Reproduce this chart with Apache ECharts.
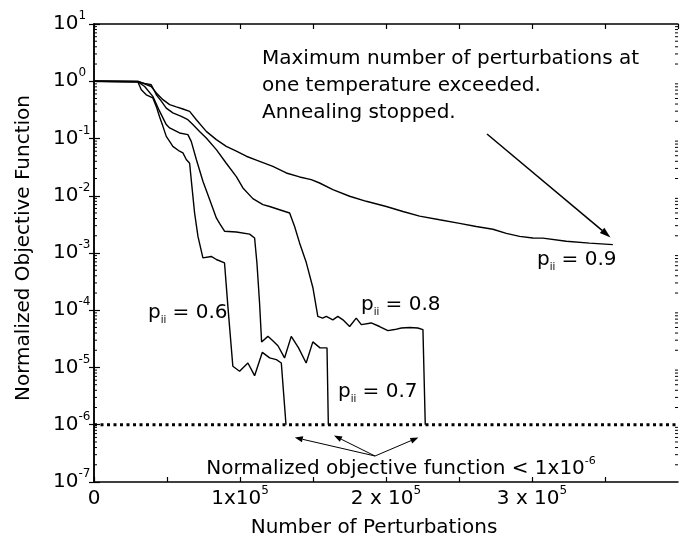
<!DOCTYPE html>
<html><head><meta charset="utf-8">
<script src="https://cdn.jsdelivr.net/npm/echarts@6/dist/echarts.min.js"></script>
<style>html,body{margin:0;padding:0;background:#fff}#c{width:687px;height:547px}</style>
</head><body><div id="c"></div>
<script>
// ---- data ----
const p06_x = [0, 30000, 32400, 35800, 40300, 42700, 44900, 47200, 49500, 51800, 54000, 58600, 60900, 63200, 65500, 66600, 68900, 71200, 74600, 80300, 83800, 89400, 91700, 95100, 99700, 105400, 110000, 115300, 120300, 124900, 128300, 131500];
const p06_y = [1, 0.98, 0.71, 0.58, 0.51, 0.36, 0.24, 0.163, 0.109, 0.089, 0.073, 0.060, 0.056, 0.043, 0.037, 0.0191, 0.0050, 0.00195, 0.00082, 0.00087, 0.00077, 0.00067, 0.000117, 1.05e-5, 8.6e-6, 1.2e-5, 7.2e-6, 1.84e-5, 1.47e-5, 1.37e-5, 1.2e-5, 1e-6];

const p07_x = [0, 30000, 34700, 40300, 44900, 49500, 51800, 58600, 64300, 66600, 70100, 74600, 79200, 83800, 86000, 89400, 97500, 106600, 110000, 111600, 113400, 114800, 119100, 122300, 126000, 130500, 135100, 140100, 145300, 149900, 154800, 159600, 160500];
const p07_y = [1, 0.98, 0.81, 0.545, 0.30, 0.175, 0.153, 0.125, 0.117, 0.089, 0.043, 0.0179, 0.0086, 0.0041, 0.0033, 0.0024, 0.00233, 0.00214, 0.00183, 0.00067, 0.000134, 2.8e-5, 3.5e-5, 2.95e-5, 2.4e-5, 1.47e-5, 3.5e-5, 2.2e-5, 1.2e-5, 2.8e-5, 2.2e-5, 2.2e-5, 1e-6];

const p08_x = [0, 30000, 34700, 39200, 42700, 46100, 49500, 54000, 59800, 64300, 67700, 72300, 76900, 83800, 90600, 97500, 102000, 108800, 115700, 120300, 127100, 134000, 137400, 140800, 145400, 149900, 153300, 156600, 159100, 163600, 167000, 170500, 175100, 179600, 183100, 189900, 195600, 201300, 205900, 210500, 216200, 221800, 225300, 226900];
const p08_y = [1, 0.98, 0.92, 0.87, 0.58, 0.45, 0.34, 0.28, 0.244, 0.213, 0.175, 0.133, 0.102, 0.064, 0.037, 0.0216, 0.0137, 0.0089, 0.0070, 0.0065, 0.0057, 0.0050, 0.0029, 0.0015, 0.00068, 0.00025, 7.8e-5, 7.3e-5, 7.8e-5, 6.8e-5, 7.8e-5, 6.8e-5, 5.2e-5, 7.3e-5, 5.6e-5, 6.0e-5, 5.2e-5, 4.4e-5, 4.6e-5, 4.9e-5, 5.0e-5, 4.9e-5, 4.6e-5, 1e-6];

const p09_x = [0, 30000, 31200, 35800, 39200, 42700, 47200, 51800, 56400, 60900, 65500, 70100, 76900, 83800, 90600, 97500, 104300, 111200, 122500, 131700, 140800, 148800, 154500, 163600, 175100, 186500, 200200, 211600, 223000, 236700, 250400, 261800, 273200, 282400, 291500, 300600, 307400, 323500, 339400, 355400];
const p09_y = [1, 1, 0.93, 0.87, 0.81, 0.625, 0.477, 0.39, 0.356, 0.328, 0.298, 0.213, 0.133, 0.0955, 0.073, 0.060, 0.049, 0.042, 0.0326, 0.025, 0.0213, 0.0191, 0.0167, 0.0128, 0.0098, 0.0080, 0.0065, 0.0053, 0.0044, 0.0038, 0.0033, 0.0029, 0.0026, 0.0022, 0.00195, 0.00183, 0.00182, 0.0016, 0.00149, 0.0014];

const threshold_x = [0, 400000];
const threshold_y = [1e-6, 1e-6];

const xTickLabels = {0: '0', 100000: '1x10', 200000: '2 x 10', 300000: '3 x 10'};
const xTickExp = '5';
const seriesLabels = ['0.6', '0.7', '0.8', '0.9'];
const xTitle = 'Number of Perturbations';
const yTitle = 'Normalized Objective Function';
const noteTop = ['Maximum number of perturbations at', 'one temperature exceeded.', 'Annealing stopped.'];
const noteBottom = 'Normalized objective function < 1x10';
const noteBottomExp = '-6';

// ---- chart ----
const FONT = 'DejaVu Sans';
const zip = (xs, ys) => xs.map((x, i) => [x, ys[i]]);
const chart = echarts.init(document.getElementById('c'), null, {renderer: 'canvas'});

const lineSeries = (data) => ({
  type: 'line', data, symbol: 'none', animation: false, silent: true,
  lineStyle: {color: '#000', width: 1.4}, z: 3
});

const supRich = {
  n: {fontFamily: FONT, fontSize: 20, color: '#000', lineHeight: 28},
  s: {fontFamily: FONT, fontSize: 12, color: '#000', lineHeight: 12, verticalAlign: 'top'}
};

chart.setOption({
  animation: false,
  backgroundColor: '#fff',
  grid: {left: 94, right: 9, top: 24, bottom: 65},
  xAxis: [{
    type: 'value', min: 0, max: 400000, interval: 50000, position: 'bottom',
    axisLine: {lineStyle: {color: '#000', width: 1.5}},
    axisTick: {inside: true, length: 5, lineStyle: {color: '#000', width: 1.2}},
    splitLine: {show: false},
    axisLabel: {
      margin: 3, showMaxLabel: false,
      formatter: v => xTickLabels[v] === undefined ? '' : (v === 0 ? '{n|0}' : '{n|' + xTickLabels[v] + '}{s|' + xTickExp + '}'),
      rich: supRich
    },
    name: xTitle, nameLocation: 'middle', nameGap: 36,
    nameTextStyle: {fontFamily: FONT, fontSize: 20, color: '#000', padding: [0, 24, 0, 0]}
  }, {
    type: 'value', min: 0, max: 400000, interval: 50000, position: 'top',
    axisLine: {lineStyle: {color: '#000', width: 1.5}},
    axisTick: {inside: true, length: 5, lineStyle: {color: '#000', width: 1.2}},
    axisLabel: {show: false}, splitLine: {show: false}
  }],
  yAxis: [{
    type: 'log', logBase: 10, min: 1e-7, max: 10, splitNumber: 8, position: 'left',
    axisLine: {show: true, lineStyle: {color: '#000', width: 1.5}},
    axisTick: {show: true, inside: true, length: 6, lineStyle: {color: '#000', width: 1.2}},
    splitLine: {show: false},
    axisLabel: {
      margin: 41, align: 'left',
      formatter: v => '{n|10}{s|' + Math.round(Math.log10(v)) + '}',
      rich: supRich
    },
    name: yTitle, nameLocation: 'middle', nameGap: 60,
    nameTextStyle: {fontFamily: FONT, fontSize: 20, color: '#000', padding: [0, 0, 0, 10]}
  }, {
    type: 'log', logBase: 10, min: 1e-7, max: 10, splitNumber: 8, position: 'right',
    axisLine: {show: true, lineStyle: {color: '#000', width: 1.5}},
    axisTick: {show: true, inside: true, length: 5, lineStyle: {color: '#000', width: 1.2}},
    axisLabel: {show: false}, splitLine: {show: false}
  }],
  series: [
    lineSeries(zip(p06_x, p06_y)),
    lineSeries(zip(p07_x, p07_y)),
    lineSeries(zip(p08_x, p08_y)),
    lineSeries(zip(p09_x, p09_y)),
    {type: 'line', data: zip(threshold_x, threshold_y), symbol: 'none', silent: true, z: 4,
     lineStyle: {color: '#000', width: 3, type: [3, 3.5]}}
  ]
});

// ---- annotations ----
const els = [];
// log minor ticks (positions from the library's own y scale)
const x0 = chart.convertToPixel({xAxisIndex: 0}, 0);
const x1 = chart.convertToPixel({xAxisIndex: 0}, 400000);
for (let e = -7; e < 1; e++) {
  for (let k = 2; k <= 9; k++) {
    const py = chart.convertToPixel({yAxisIndex: 0}, k * Math.pow(10, e));
    els.push({type: 'line', silent: true, shape: {x1: x0, y1: py, x2: x0 + 3, y2: py}, style: {stroke: '#000', lineWidth: 1}});
    els.push({type: 'line', silent: true, shape: {x1: x1 - 3, y1: py, x2: x1, y2: py}, style: {stroke: '#000', lineWidth: 1}});
  }
}
function arrow(ax, ay, bx, by, w, hl, hw) {
  const dx = bx - ax, dy = by - ay, L = Math.hypot(dx, dy), ux = dx / L, uy = dy / L;
  const baseX = bx - ux * hl, baseY = by - uy * hl;
  els.push({type: 'line', silent: true, shape: {x1: ax, y1: ay, x2: baseX, y2: baseY}, style: {stroke: '#000', lineWidth: w}});
  els.push({type: 'polygon', silent: true, shape: {points: [[bx, by], [baseX - uy * hw / 2, baseY + ux * hw / 2], [baseX + uy * hw / 2, baseY - ux * hw / 2]]}, style: {fill: '#000'}});
}
arrow(487, 134, 610.5, 237.5, 1.5, 11, 7);
arrow(375, 456, 294.8, 437.5, 1, 8, 6);
arrow(375, 456, 334, 435.6, 1, 8, 6);
arrow(375, 456, 418.4, 437.5, 1, 8, 6);

const plainStyle = {fontFamily: FONT, fontSize: 20, fill: '#000'};
noteTop.forEach((t, i) => {
  els.push({type: 'text', silent: true, x: 262, y: 59 + i * 26.7,
    style: Object.assign({text: t, textAlign: 'left', textVerticalAlign: 'middle'}, plainStyle)});
});
const pRich = {
  n: {fontFamily: FONT, fontSize: 20, color: '#000', lineHeight: 24},
  i: {fontFamily: FONT, fontSize: 10, color: '#000', lineHeight: 10, verticalAlign: 'bottom'}
};
const labelPos = [[148, 313], [338, 392], [361, 305], [537, 260]];
seriesLabels.forEach((s, i) => {
  els.push({type: 'text', silent: true, x: labelPos[i][0], y: labelPos[i][1],
    style: {text: '{n|p}{i|ii}{n| = ' + s + '}', rich: pRich, textAlign: 'left', textVerticalAlign: 'middle'}});
});
els.push({type: 'text', silent: true, x: 401, y: 469,
  style: {text: '{n|' + noteBottom + '}{s|' + noteBottomExp + '}', rich: {
    n: {fontFamily: FONT, fontSize: 20, color: '#000', lineHeight: 26},
    s: {fontFamily: FONT, fontSize: 11, color: '#000', lineHeight: 11, verticalAlign: 'top'}
  }, textAlign: 'center', textVerticalAlign: 'middle'}});

chart.setOption({graphic: {elements: els}});
</script>
</body></html>
